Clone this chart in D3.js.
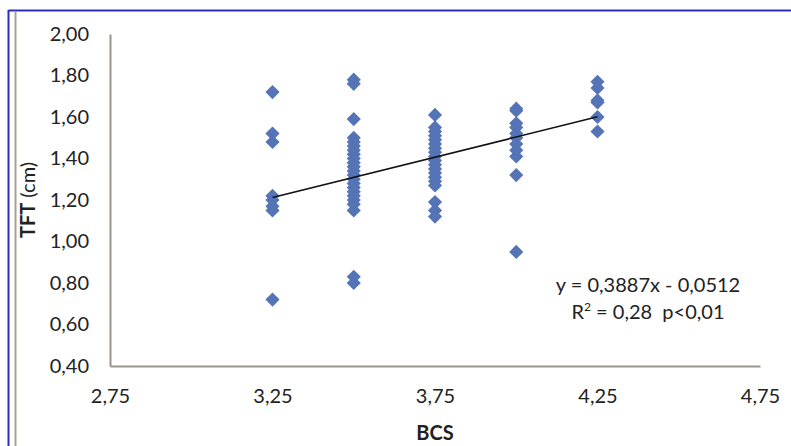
<!DOCTYPE html>
<html>
<head>
<meta charset="utf-8" />
<title>TFT vs BCS</title>
<style>
body { margin: 0; background: #fff; }
#graph { width: 791px; height: 446px; font-family: Lato, "Open Sans", Arial, sans-serif; }
</style>
</head>
<body>
<div id="graph"></div>
<script src="https://cdnjs.cloudflare.com/ajax/libs/d3/7.8.5/d3.min.js"></script>
<script>
// values, one list per BCS class
var bcsClasses = [3.25, 3.5, 3.75, 4.0, 4.25]
var tft325 = [1.72, 1.52, 1.48, 1.22, 1.20, 1.17, 1.15, 0.72]
var tft350 = [1.78, 1.76, 1.59, 1.50, 1.48, 1.46, 1.44, 1.42, 1.40, 1.38, 1.36, 1.34, 1.32,
              1.30, 1.28, 1.26, 1.24, 1.22, 1.20, 1.18, 1.15, 0.83, 0.80]
var tft375 = [1.61, 1.55, 1.53, 1.51, 1.49, 1.47, 1.45, 1.43, 1.41, 1.39, 1.37, 1.35, 1.33,
              1.31, 1.29, 1.27, 1.19, 1.15, 1.12]
var tft400 = [1.64, 1.63, 1.57, 1.55, 1.52, 1.50, 1.47, 1.44, 1.41, 1.32, 0.95]
var tft425 = [1.77, 1.74, 1.68, 1.67, 1.60, 1.53]
var tftSeries = [tft325, tft350, tft375, tft400, tft425]

var xTicks = [2.75, 3.25, 3.75, 4.25, 4.75]
var yTicks = [0.4, 0.6, 0.8, 1.0, 1.2, 1.4, 1.6, 1.8, 2.0]
var slope = 0.3887, intercept = -0.0512
var trendRange = [3.25, 4.25]

var width = 791, height = 446
var margin = {top: 34, left: 110, bottom: 80, right: 31}
var fontFam = "Lato, 'Open Sans', Arial, sans-serif"

var svg = d3.select("#graph").append("svg")
    .attr("width", width).attr("height", height)

// frame lines of the original figure
svg.append("line").attr("x1", 8.5).attr("x2", width).attr("y1", 10.5).attr("y2", 10.5)
    .attr("stroke", "#2b2fb8").attr("stroke-width", 2)
svg.append("line").attr("x1", 8.5).attr("x2", 8.5).attr("y1", 10).attr("y2", height)
    .attr("stroke", "#2b2fb8").attr("stroke-width", 2)
svg.append("line").attr("x1", 15.5).attr("x2", 15.5).attr("y1", 12).attr("y2", height)
    .attr("stroke", "#a79f98").attr("stroke-width", 2)

var xScale = d3.scaleLinear().domain([2.75, 4.75]).range([margin.left, width - margin.right])
var yScale = d3.scaleLinear().domain([0.4, 2.0]).range([height - margin.bottom, margin.top])

var fmt = function(d) { return d3.format(".2f")(d).replace(".", ",") }

svg.append("g")
    .attr("transform", "translate(" + margin.left + ",0)")
    .call(d3.axisLeft(yScale).tickValues(yTicks).tickFormat(fmt).tickSize(0).tickPadding(21))
svg.append("g")
    .attr("transform", "translate(0," + (height - margin.bottom) + ")")
    .call(d3.axisBottom(xScale).tickValues(xTicks).tickFormat(fmt).tickSize(0).tickPadding(23))

svg.selectAll(".domain").attr("stroke", "#9a948e").attr("stroke-width", 2)
svg.selectAll(".tick text").attr("font-size", 20).attr("fill", "#222")
    .attr("font-family", fontFam)

// points
var points = []
bcsClasses.forEach(function(b, i) {
    tftSeries[i].forEach(function(v) { points.push({x: b, y: v}) })
})
var diamond = d3.symbol().type(d3.symbolDiamond2).size(128)
svg.append("g").selectAll("path").data(points).enter().append("path")
    .attr("d", diamond)
    .attr("transform", function(d) { return "translate(" + xScale(d.x) + "," + yScale(d.y) + ")" })
    .attr("fill", "#5574b6")

// trend line
svg.append("line")
    .attr("x1", xScale(trendRange[0])).attr("y1", yScale(slope * trendRange[0] + intercept))
    .attr("x2", xScale(trendRange[1])).attr("y2", yScale(slope * trendRange[1] + intercept))
    .attr("stroke", "#111").attr("stroke-width", 1.6)

// axis titles
svg.append("text").attr("x", xScale(3.75)).attr("y", 440).attr("text-anchor", "middle")
    .attr("font-size", 20).attr("font-weight", "bold").attr("fill", "#222").text("BCS")
var yt = svg.append("text").attr("transform", "translate(35," + yScale(1.2) + ") rotate(-90)")
    .attr("text-anchor", "middle").attr("font-size", 20).attr("fill", "#222")
yt.append("tspan").attr("font-weight", "bold").text("TFT")
yt.append("tspan").text(" (cm)")

// equation
svg.append("text").attr("x", 648).attr("y", 292).attr("text-anchor", "middle")
    .attr("font-size", 20).attr("fill", "#222").text("y = 0,3887x - 0,0512")
var r2 = svg.append("text").attr("x", 648).attr("y", 319).attr("text-anchor", "middle")
    .attr("font-size", 20).attr("fill", "#222").attr("xml:space", "preserve")
r2.append("tspan").text("R")
r2.append("tspan").attr("font-size", 12).attr("dy", -8).text("2")
r2.append("tspan").attr("dy", 8).text(" = 0,28  p<0,01")
</script>
</body>
</html>
